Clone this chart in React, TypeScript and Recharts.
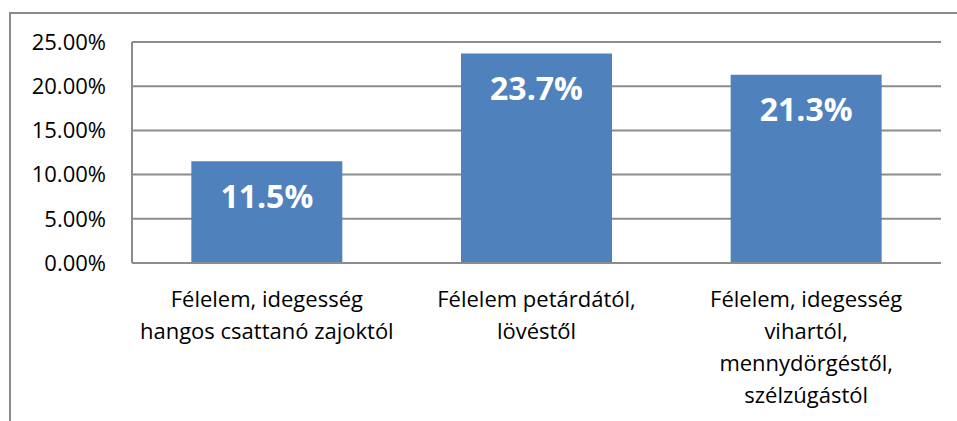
import React from 'react';
import { BarChart, Bar, XAxis, YAxis, CartesianGrid, LabelList } from 'recharts';

const categories = [
  'Félelem, idegesség\nhangos csattanó zajoktól',
  'Félelem petárdától,\nlövéstől',
  'Félelem, idegesség\nvihartól,\nmennydörgéstől,\nszélzúgástól',
];
const shares = [11.5, 23.7, 21.3];
const yTicks = [0, 5, 10, 15, 20, 25];

const data = categories.map((name, i) => ({ name, value: shares[i] }));

const FONT = '"Open Sans", sans-serif';

const CategoryTick = (props: any) => {
  const { x, y, payload } = props;
  const lines = String(payload.value).split('\n');
  return (
    <text x={x} y={y} textAnchor="middle" fill="#000" fontSize={22} fontFamily={FONT}>
      {lines.map((line: string, i: number) => (
        <tspan key={i} x={x} dy={i === 0 ? 36 : 32}>
          {line}
        </tspan>
      ))}
    </text>
  );
};

export default function App() {
  return (
    <div style={{ position: 'fixed', left: 0, top: 0, width: 957, height: 421, background: '#fff' }}>
      <div
        style={{
          position: 'absolute',
          left: 9,
          top: 12,
          width: 948,
          height: 409,
          borderLeft: '2px solid #8a8a8a',
          borderTop: '2px solid #8a8a8a',
        }}
      />
      <div style={{ position: 'absolute', left: 0, top: 0 }}>
        <BarChart
          width={957}
          height={421}
          data={data}
          margin={{ top: 42, right: 16, bottom: 0, left: 0 }}
          barCategoryGap="22%"
        >
          <CartesianGrid vertical={false} stroke="#8c8c8c" strokeWidth={2} />
          <XAxis
            dataKey="name"
            height={158}
            axisLine={{ stroke: '#8c8c8c', strokeWidth: 2 }}
            tickLine={false}
            tick={<CategoryTick />}
            interval={0}
          />
          <YAxis
            width={132}
            domain={[0, 25]}
            ticks={yTicks}
            tickFormatter={(v: number) => `${v.toFixed(2)}%`}
            axisLine={{ stroke: '#8c8c8c', strokeWidth: 2 }}
            tickLine={false}
            tickSize={0}
            tickMargin={26}
            tick={{ fill: '#000', fontSize: 22, fontFamily: FONT }}
          />
          <Bar dataKey="value" fill="#4f81bd" isAnimationActive={false}>
            <LabelList
              dataKey="value"
              position="insideTop"
              offset={24}
              formatter={(v: number) => `${v}%`}
              style={{ fill: '#fff', fontSize: 32, fontWeight: 700, fontFamily: FONT }}
            />
          </Bar>
        </BarChart>
      </div>
    </div>
  );
}
